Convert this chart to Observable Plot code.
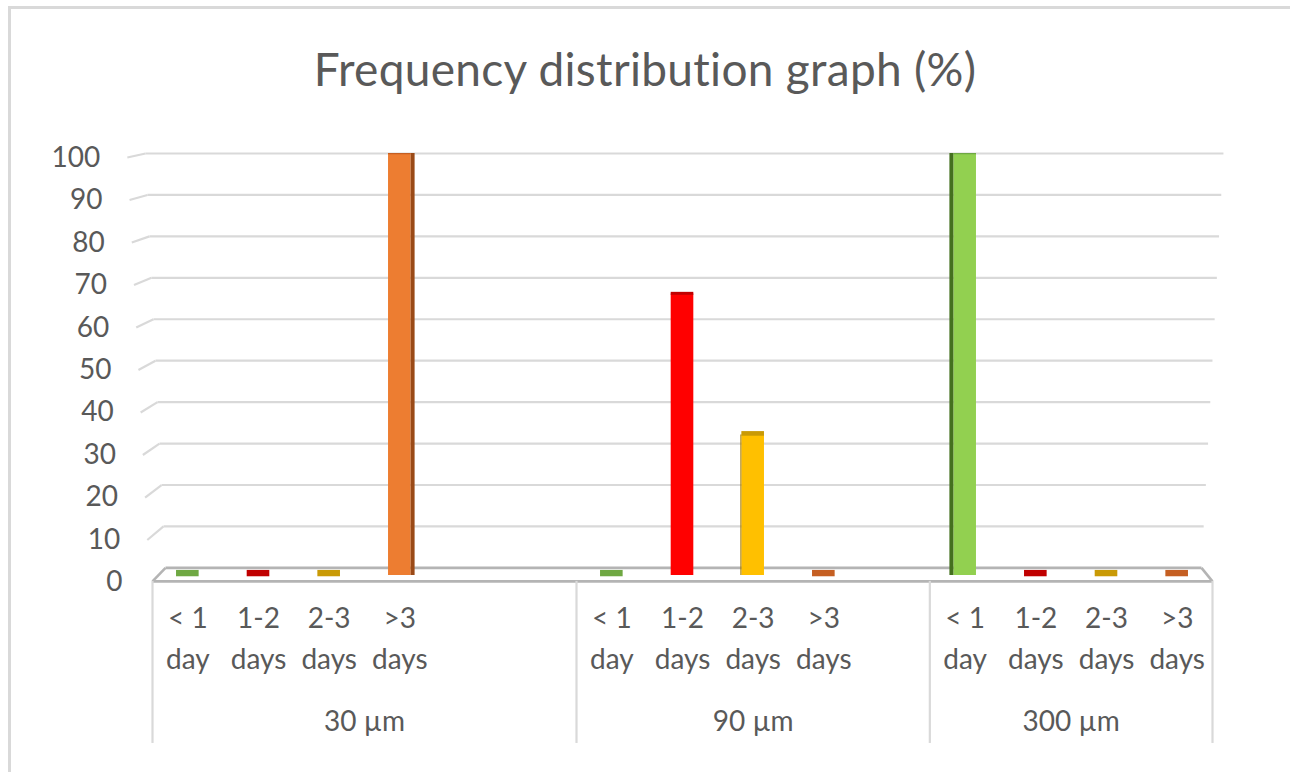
<!DOCTYPE html>
<html>
<head>
<meta charset="utf-8">
<script src="https://cdn.jsdelivr.net/npm/d3@7"></script>
<script src="https://cdn.jsdelivr.net/npm/@observablehq/plot@0.6"></script>
<style>
  html, body { margin: 0; padding: 0; background: #fff; }
  #wrap { position: relative; width: 1290px; height: 772px; overflow: hidden; background: #fff; font-family: Lato, "Open Sans", sans-serif; }
  #borderTop { position: absolute; left: 8px; top: 6px; width: 1290px; height: 3px; background: #d9d9d9; }
  #borderLeft { position: absolute; left: 8px; top: 6px; width: 3px; height: 772px; background: #d9d9d9; }
  #title { position: absolute; left: 0; top: 41px; width: 1290px; text-align: center; font-size: 46px; color: #595959; letter-spacing: 0.3px; }
  #chart { position: absolute; left: 0; top: 0; }
</style>
</head>
<body>
<div id="wrap">
  <div id="borderTop"></div>
  <div id="borderLeft"></div>
  <div id="title">Frequency distribution graph (%)</div>
  <div id="chart"></div>
</div>
<script>
// ---- data ----
const groups = ["30 µm", "90 µm", "300 µm"];
const categories = ["< 1 day", "1-2 days", "2-3 days", ">3 days"];
const categoryLabels = ["< 1\nday", "1-2\ndays", "2-3\ndays", ">3\ndays"];
const values30 = [0, 0, 0, 100];
const values90 = [0, 66.7, 33.3, 0];
const values300 = [100, 0, 0, 0];
const blankRows = [2, 1, 0];           // empty category rows after each group in the source table
const yTicks = [0, 10, 20, 30, 40, 50, 60, 70, 80, 90, 100];

// ---- colours ----
const frontColor = {"< 1 day": "#92d050", "1-2 days": "#ff0000", "2-3 days": "#ffc000", ">3 days": "#ed7d31"};
const shadeColor = {"< 1 day": "#6fa843", "1-2 days": "#c00000", "2-3 days": "#c99a06", ">3 days": "#c55f22"};
const sideColor  = {"< 1 day": "#44701f", "1-2 days": "#a00000", "2-3 days": "#a07800", ">3 days": "#9a4a17"};

// ---- build table ----
const seriesValues = [values30, values90, values300];
const rows = [];
const groupSpans = [];
let slot = 0;
groups.forEach((g, gi) => {
  const start = slot;
  categories.forEach((c, ci) => {
    rows.push({group: g, category: c, label: categoryLabels[ci], value: seriesValues[gi][ci], slot});
    slot++;
  });
  slot += blankRows[gi];
  groupSpans.push({group: g, start, end: slot, mid: (start + slot) / 2});
});
const nSlots = slot;
const boundaries = [0, ...groupSpans.map(d => d.end)];

// ---- simple 3D box projection (slot units / value units) ----
const HALF = 0.16;                              // half bar width in slot units
const centerSlot = nSlots / 2;
const yBack = v => 1.8 + 0.982 * v;             // back wall height of a value
const yFront = v => -1.66 + 1.007 * v;          // front edge of side wall
const xFrontLeft = v => -0.042 - 0.00314 * v;
const xBackLeft = v => 0.184 - 0.00283 * v;
const xBackRight = v => 14.844 + 0.00311 * v;
const capOf = v => (100 - v) * 0.012;            // visible top face
const sideOf = s => Math.abs(s + 0.5 - centerSlot) * 0.02; // visible side face

const grid = yTicks.filter(v => v > 0);
const nonZero = rows.filter(d => d.value > 0);
const sides = nonZero.map(d => {
  const c = d.slot + 0.5;
  const w = sideOf(d.slot) * 0.7;
  return c < centerSlot
    ? {...d, x1: c + HALF, x2: c + HALF + w}
    : {...d, x1: c - HALF - w, x2: c - HALF};
});

const plot = Plot.plot({
  width: 1290,
  height: 772,
  marginLeft: 152,
  marginRight: 78,
  marginTop: 153,
  marginBottom: 197,
  x: {domain: [0, nSlots], axis: null},
  y: {domain: [0, 100], axis: null},
  style: {fontFamily: "Lato, 'Open Sans', sans-serif", color: "#595959", background: "transparent", overflow: "visible"},
  marks: [
    // side-wall gridlines
    Plot.link(grid, {x1: xFrontLeft, y1: yFront, x2: xBackLeft, y2: yBack, stroke: "#d9d9d9", strokeWidth: 2.2}),
    // back-wall gridlines
    Plot.link(grid, {x1: xBackLeft, y1: yBack, x2: xBackRight, y2: yBack, stroke: "#d9d9d9", strokeWidth: 2.2}),
    // floor
    Plot.link([0], {x1: xBackLeft, y1: yBack, x2: xBackRight, y2: yBack, stroke: "#b4b4b4", strokeWidth: 2.6}),
    Plot.link([0], {x1: 0, y1: -1.4, x2: xBackLeft, y2: yBack, stroke: "#b4b4b4", strokeWidth: 2.6}),
    Plot.link([0], {x1: nSlots, y1: -1.4, x2: xBackRight, y2: yBack, stroke: "#b4b4b4", strokeWidth: 2.6}),
    // bars
    Plot.rectY(nonZero, {x1: d => d.slot + 0.5 - HALF, x2: d => d.slot + 0.5 + HALF, y1: 0, y2: "value", fill: d => frontColor[d.category]}),
    Plot.rectY(sides, {x1: "x1", x2: "x2", y1: 0, y2: "value", fill: d => sideColor[d.category]}),
    // top faces (and zero slabs)
    Plot.rectY(rows, {x1: d => d.slot + 0.5 - HALF, x2: d => d.slot + 0.5 + HALF, y1: d => d.value - 0.3, y2: d => d.value + capOf(d.value), fill: d => shadeColor[d.category]}),
    // floor front edge
    Plot.link([0], {x1: 0, y1: -1.4, x2: nSlots, y2: -1.4, stroke: "#b4b4b4", strokeWidth: 2.8}),
    // group separators
    Plot.ruleX(boundaries, {y1: -1.4, y2: -39.8, stroke: "#d9d9d9", strokeWidth: 2.2}),
    // y tick labels
    Plot.text(yTicks, {x: xFrontLeft, y: yFront, text: d => String(d), textAnchor: "end", dx: -27, fontSize: 28, fill: "#595959"}),
    // category labels
    Plot.text(rows, {x: d => d.slot + 0.5, text: "label", frameAnchor: "bottom", dy: 93, lineHeight: 1.43, fontSize: 28, fill: "#595959"}),
    // group labels
    Plot.text(groupSpans, {x: "mid", text: "group", frameAnchor: "bottom", dy: 155, fontSize: 28, fill: "#595959"})
  ]
});
document.getElementById("chart").appendChild(plot);
</script>
</body>
</html>
